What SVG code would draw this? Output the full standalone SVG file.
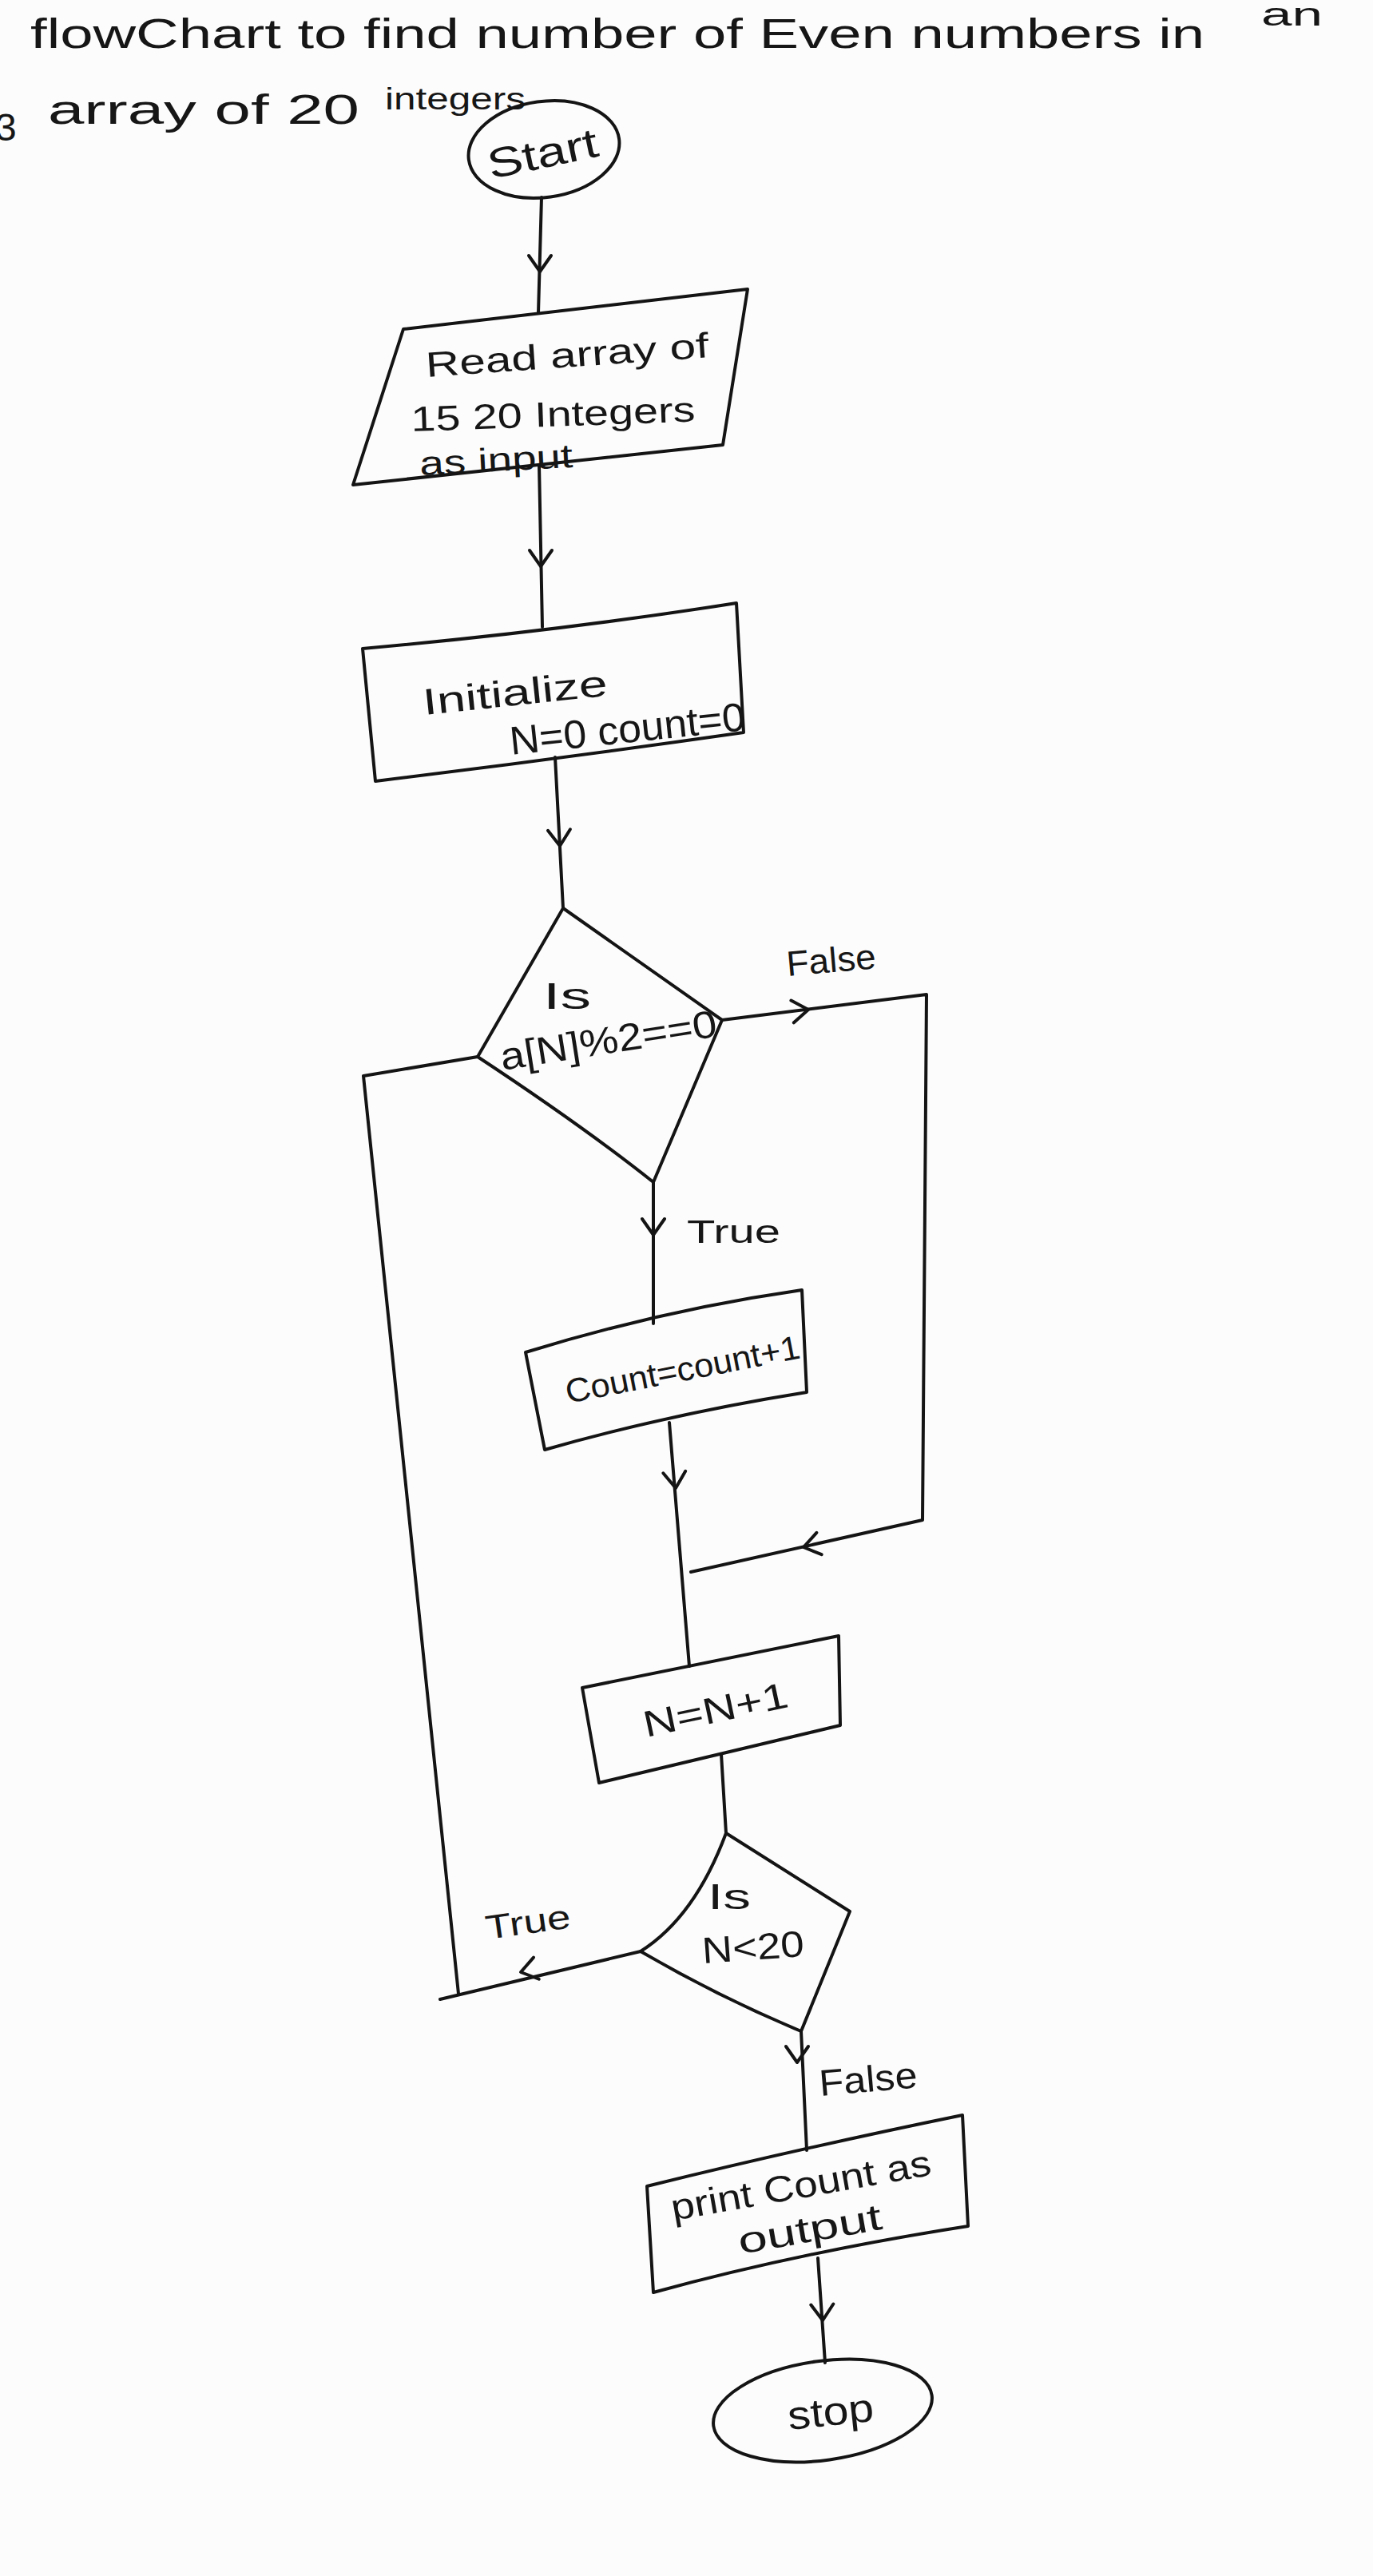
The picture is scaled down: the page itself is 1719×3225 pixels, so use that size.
<svg xmlns="http://www.w3.org/2000/svg" width="1719" height="3225" viewBox="0 0 1719 3225">
<style>
.s{fill:none;stroke:#141414;stroke-width:4;stroke-linejoin:round;stroke-linecap:round}
.t{font-family:"Liberation Sans","DejaVu Sans",sans-serif;fill:#161616}
</style>
<defs>
<path id="ah" d="M -20 -14 L 0 0 L -20 14" fill="none" stroke="#141414" stroke-width="4" stroke-linecap="round" stroke-linejoin="round"/>
</defs>
<rect width="1719" height="3225" fill="#fcfcfc"/>

<g id="title">
<text class="t" x="38" y="60" font-size="52" textLength="1470" lengthAdjust="spacingAndGlyphs">flowChart to find number of Even numbers in</text>
<text class="t" x="1579" y="32" font-size="40" textLength="77" lengthAdjust="spacingAndGlyphs">an</text>
<text class="t" x="-6" y="176" font-size="48">3</text>
<text class="t" x="60" y="155" font-size="52" textLength="390" lengthAdjust="spacingAndGlyphs">array of 20</text>
<text class="t" x="482" y="137" font-size="38" textLength="176" lengthAdjust="spacingAndGlyphs">integers</text>
</g>

<g id="start">
<ellipse class="s" cx="681" cy="187" rx="95" ry="60" transform="rotate(-8 681 187)"/>
<text class="t" x="681" y="210" font-size="52" text-anchor="middle" textLength="140" lengthAdjust="spacingAndGlyphs" transform="rotate(-12 681 200)">Start</text>
</g>

<g id="read">
<path class="s" d="M 505 412 L 936 362 L 905 557 L 442 607 Z"/>
<text class="t" font-size="44" x="534" y="472" textLength="355" lengthAdjust="spacingAndGlyphs" transform="rotate(-4 534 472)">Read array of</text>
<text class="t" font-size="44" x="515" y="540" textLength="356" lengthAdjust="spacingAndGlyphs" transform="rotate(-2 515 540)">15 20 Integers</text>
<text class="t" font-size="42" x="526" y="595" textLength="192" lengthAdjust="spacingAndGlyphs" transform="rotate(-3 526 595)">as input</text>
</g>

<g id="init">
<path class="s" d="M 454 812 Q 700 790 922 755 L 931 917 Q 700 950 470 978 Z"/>
<text class="t" font-size="46" x="531" y="895" textLength="232" lengthAdjust="spacingAndGlyphs" transform="rotate(-6 531 895)">Initialize</text>
<text class="t" font-size="50" x="640" y="945" textLength="296" lengthAdjust="spacingAndGlyphs" transform="rotate(-6 640 945)">N=0 count=0</text>
</g>

<g id="dec1">
<path class="s" d="M 705 1137 L 904 1277 L 818 1480 Q 730 1410 598 1323 Z"/>
<text class="t" font-size="46" x="680" y="1263" textLength="60" lengthAdjust="spacingAndGlyphs">Is</text>
<text class="t" font-size="48" x="629" y="1340" textLength="274" lengthAdjust="spacingAndGlyphs" transform="rotate(-9 629 1340)">a[N]%2==0</text>
</g>

<g id="countbox">
<path class="s" d="M 658 1693 Q 830 1640 1004 1615 L 1010 1743 Q 840 1770 682 1815 Z"/>
<text class="t" font-size="42" x="711" y="1757" textLength="298" lengthAdjust="spacingAndGlyphs" transform="rotate(-11 711 1757)">Count=count+1</text>
</g>

<g id="incr">
<path class="s" d="M 729 2113 L 1050 2048 L 1052 2160 L 750 2232 Z"/>
<text class="t" font-size="46" x="809" y="2175" textLength="184" lengthAdjust="spacingAndGlyphs" transform="rotate(-12 809 2175)">N=N+1</text>
</g>

<g id="dec2">
<path class="s" d="M 909 2295 L 1064 2393 L 1003 2543 Q 900 2500 802 2443 Q 870 2400 909 2295 Z"/>
<text class="t" font-size="44" x="886" y="2390" textLength="54" lengthAdjust="spacingAndGlyphs">Is</text>
<text class="t" font-size="46" x="880" y="2458" textLength="128" lengthAdjust="spacingAndGlyphs" transform="rotate(-4 880 2458)">N&lt;20</text>
</g>

<g id="print">
<path class="s" d="M 810 2737 Q 1000 2690 1205 2648 L 1212 2787 Q 1000 2820 818 2870 Z"/>
<text class="t" font-size="46" x="843" y="2780" textLength="330" lengthAdjust="spacingAndGlyphs" transform="rotate(-10 843 2780)">print Count as</text>
<text class="t" font-size="46" x="927" y="2822" textLength="182" lengthAdjust="spacingAndGlyphs" transform="rotate(-10 927 2822)">output</text>
</g>

<g id="stop">
<ellipse class="s" cx="1030" cy="3018" rx="138" ry="62" transform="rotate(-8 1030 3018)"/>
<text class="t" font-size="50" x="988" y="3042" textLength="108" lengthAdjust="spacingAndGlyphs" transform="rotate(-6 988 3042)">stop</text>
</g>

<g id="connectors">
<path class="s" d="M 678 247 L 674 392"/>
<use href="#ah" transform="translate(676 340) rotate(90)"/>
<path class="s" d="M 675 582 L 679 785"/>
<use href="#ah" transform="translate(677 709) rotate(90)"/>
<path class="s" d="M 695 948 L 705 1137"/>
<use href="#ah" transform="translate(701 1059) rotate(87)"/>
<path class="s" d="M 904 1277 L 1160 1245 L 1155 1903 L 865 1968"/>
<use href="#ah" transform="translate(1012 1264) rotate(-7)"/>
<use href="#ah" transform="translate(1006 1937) rotate(167)"/>
<path class="s" d="M 818 1480 L 818 1657"/>
<use href="#ah" transform="translate(818 1546) rotate(90)"/>
<path class="s" d="M 838 1781 L 863 2086"/>
<use href="#ah" transform="translate(846 1863) rotate(85)"/>
<path class="s" d="M 903 2196 L 909 2295"/>
<path class="s" d="M 802 2443 L 551 2503"/>
<use href="#ah" transform="translate(652 2469) rotate(166)"/>
<path class="s" d="M 574 2496 L 455 1347 L 598 1323"/>
<path class="s" d="M 1003 2543 L 1010 2692"/>
<use href="#ah" transform="translate(998 2582) rotate(90)"/>
<path class="s" d="M 1024 2827 L 1033 2958"/>
<use href="#ah" transform="translate(1030 2905) rotate(88)"/>
<text class="t" font-size="44" x="986" y="1222" textLength="112" lengthAdjust="spacingAndGlyphs" transform="rotate(-5 986 1222)">False</text>
<text class="t" font-size="40" x="860" y="1556" textLength="117" lengthAdjust="spacingAndGlyphs">True</text>
<text class="t" font-size="42" x="610" y="2428" textLength="107" lengthAdjust="spacingAndGlyphs" transform="rotate(-8 610 2428)">True</text>
<text class="t" font-size="46" x="1027" y="2624" textLength="123" lengthAdjust="spacingAndGlyphs" transform="rotate(-5 1027 2624)">False</text>
</g>
</svg>
